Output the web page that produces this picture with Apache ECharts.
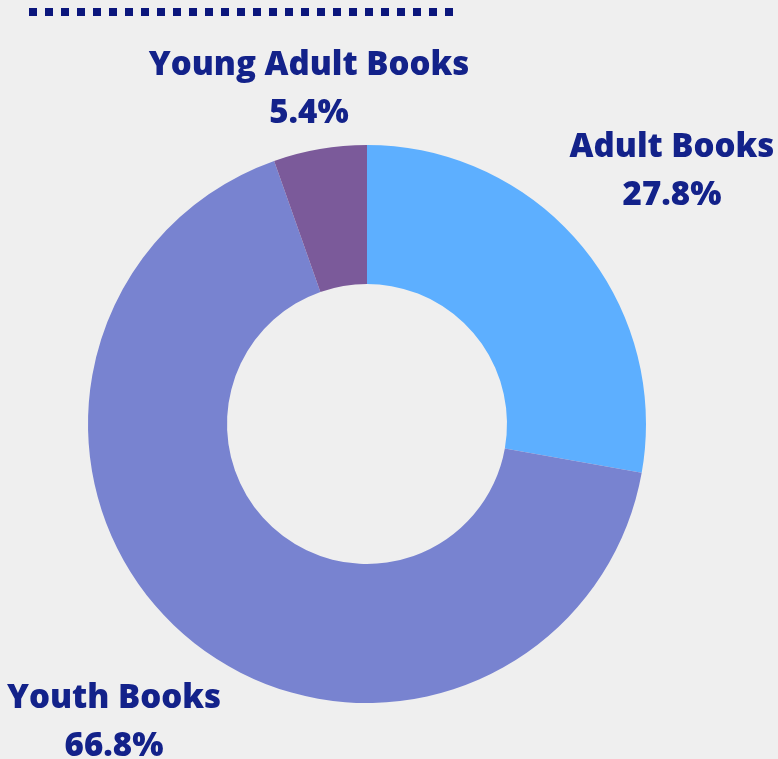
<!DOCTYPE html>
<html>
<head>
<meta charset="utf-8">
<script src="https://cdn.jsdelivr.net/npm/echarts@6/dist/echarts.min.js"></script>
<style>
html,body{margin:0;padding:0;background:#efefef;}
#c{width:778px;height:759px;}
</style>
</head>
<body>
<div id="c"></div>
<script>
var categories = ['Adult Books', 'Youth Books', 'Young Adult Books'];
var values = [27.8, 66.8, 5.4];
var colors = ['#5dafff', '#7883d0', '#7b5a9a'];
var labelPos = [[672, 172], [114, 723], [309, 90]];

var chart = echarts.init(document.getElementById('c'), null, {renderer: 'canvas'});
var data = categories.map(function (n, i) {
  return {name: n, value: values[i], itemStyle: {color: colors[i]}};
});
chart.setOption({
  backgroundColor: '#efefef',
  animation: false,
  graphic: [{
    type: 'line',
    shape: {x1: 29, y1: 12, x2: 453, y2: 12},
    style: {stroke: '#0b167c', lineWidth: 8, lineDash: [8, 8], lineCap: 'butt'}
  }],
  series: [{
    type: 'pie',
    center: [367, 424],
    radius: [140, 279],
    startAngle: 90,
    clockwise: true,
    percentPrecision: 1,
    data: data,
    label: {
      show: true,
      formatter: '{b}\n{d}%',
      color: '#13228a',
      fontFamily: 'Open Sans',
      fontWeight: 800,
      fontSize: 33,
      lineHeight: 48,
      align: 'center',
      width: 400,
      overflow: 'none'
    },
    labelLine: {show: false},
    labelLayout: function (p) {
      var pos = labelPos[p.dataIndex];
      return {x: pos[0], y: pos[1], align: 'center', verticalAlign: 'middle'};
    },
    emphasis: {disabled: true}
  }]
});
</script>
</body>
</html>
